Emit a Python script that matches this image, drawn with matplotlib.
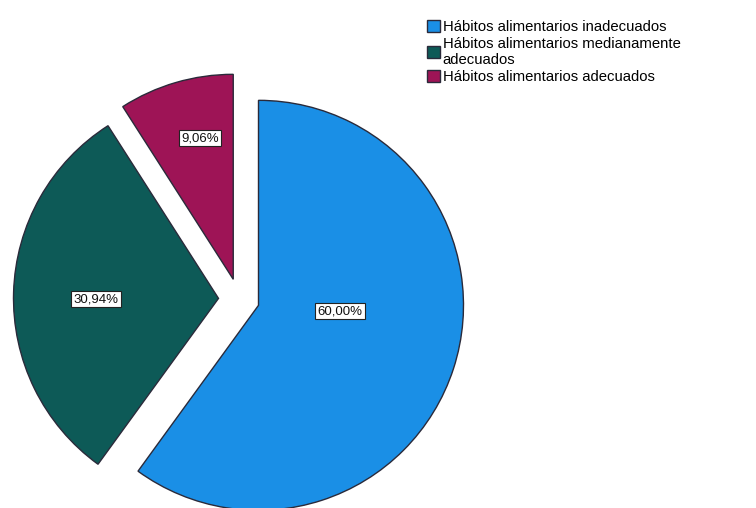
import matplotlib
matplotlib.use("Agg")
import matplotlib.pyplot as plt

categories = ["Hábitos alimentarios inadecuados",
              "Hábitos alimentarios medianamente\nadecuados",
              "Hábitos alimentarios adecuados"]
values = [60.00, 30.94, 9.06]
colors = ["#1a8fe6", "#0d5a57", "#9e1456"]

W, H = 756, 508
fig = plt.figure(figsize=(W / 100, H / 100), dpi=100)
plt.rcParams['font.family'] = ['Liberation Sans', 'DejaVu Sans']

# pie centre / radius in pixels
cx, cy, R = 239, 299, 205
lim = 1.2
size = 2 * lim * R
ax = fig.add_axes([(cx - size / 2) / W, (H - cy - size / 2) / H, size / W, size / H])

wedges, texts, autotexts = ax.pie(
    values, colors=colors, startangle=90, counterclock=False,
    explode=[0.1, 0.1, 0.1], radius=1,
    autopct=lambda p: f"{p:.2f}%".replace(".", ","),
    wedgeprops=dict(edgecolor="#2a2a3a", linewidth=1.0),
    textprops=dict(fontsize=9.5, color="#111111"))
ax.set_xlim(-lim, lim)
ax.set_ylim(-lim, lim)
ax.set_aspect("equal")
ax.axis("off")

label_pos = [(0.493, -0.059), (-0.698, 0.0), (-0.190, 0.785)]
for t, (x, y) in zip(autotexts, label_pos):
    t.set_position((x, y))
    t.set_bbox(dict(facecolor="white", edgecolor="#222222", linewidth=0.8, pad=1.5))

leg = fig.legend(wedges, categories, loc="upper left",
                 bbox_to_anchor=(427 / W, 1 - 20 / H), frameon=False,
                 fontsize=10.7, handlelength=0.85, handleheight=0.85,
                 handletextpad=0.2, labelspacing=0.2, borderpad=0, borderaxespad=0)
for t in leg.get_texts():
    t.set_linespacing(1.15)

fig.savefig("out.png", dpi=100)
